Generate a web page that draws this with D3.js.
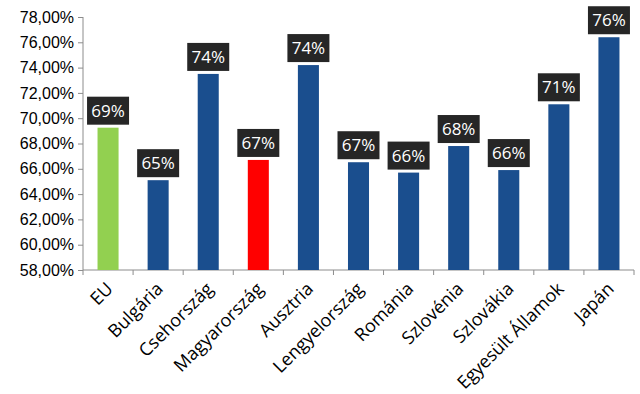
<!DOCTYPE html>
<html>
<head>
<meta charset="utf-8">
<script src="https://cdn.jsdelivr.net/npm/d3@7"></script>
<style>
  body { margin: 0; background: #fff; }
  svg { display: block; font-family: "Open Sans", sans-serif; }
</style>
</head>
<body>
<svg width="640" height="394"></svg>
<script>
// data
var countries = ["EU", "Bulgária", "Csehország", "Magyarország", "Ausztria", "Lengyelország",
                 "Románia", "Szlovénia", "Szlovákia", "Egyesült Államok", "Japán"];
var values = [69.25, 65.1, 73.5, 66.7, 74.2, 66.52, 65.7, 67.8, 65.9, 71.1, 76.4];
var barColors = ["#92d050", "#1a4e8e", "#1a4e8e", "#ff0000", "#1a4e8e", "#1a4e8e",
                 "#1a4e8e", "#1a4e8e", "#1a4e8e", "#1a4e8e", "#1a4e8e"];
var yTicks = [58, 60, 62, 64, 66, 68, 70, 72, 74, 76, 78];

var svg = d3.select("svg"),
    margin = {top: 17, right: 6, bottom: 124, left: 83},
    width = +svg.attr("width") - margin.left - margin.right,
    height = +svg.attr("height") - margin.top - margin.bottom;

var g = svg.append("g").attr("transform", "translate(" + margin.left + "," + margin.top + ")");

var x = d3.scaleBand().domain(countries).range([0, width]).padding(0);
var y = d3.scaleLinear().domain([58, 78]).range([height, 0]);

var fmt = function(d) { return d3.format(".2f")(d).replace(".", ",") + "%"; };

// y axis
var yAxis = g.append("g")
    .call(d3.axisLeft(y).tickValues(yTicks).tickFormat(fmt).tickSize(5).tickPadding(4));
yAxis.selectAll("line, path").attr("stroke", "#8c8c8c");
yAxis.select(".domain").attr("d", "M0," + y(78) + "V" + y(58));
yAxis.selectAll("text").attr("font-size", 16).attr("fill", "#000");

// x axis: ticks at category boundaries
var xg = g.append("g").attr("transform", "translate(0," + height + ")");
xg.append("line").attr("x1", 0).attr("x2", width).attr("stroke", "#8c8c8c");
xg.selectAll(".tick").data(countries.concat([null])).enter().append("line")
    .attr("x1", function(d) { return d === null ? width : x(d); })
    .attr("x2", function(d) { return d === null ? width : x(d); })
    .attr("y1", 0).attr("y2", 5)
    .attr("stroke", "#8c8c8c");

xg.selectAll(".lbl").data(countries).enter().append("text")
    .attr("transform", function(d) {
      return "translate(" + (x(d) + x.bandwidth() / 2 + 6) + ",20) rotate(-45)";
    })
    .attr("text-anchor", "end")
    .attr("font-size", 18)
    .text(function(d) { return d; });

// bars
var bw = x.bandwidth() * 0.42;
g.selectAll(".bar").data(countries).enter().append("rect")
    .attr("x", function(d) { return x(d) + (x.bandwidth() - bw) / 2; })
    .attr("y", function(d, i) { return y(values[i]); })
    .attr("width", bw)
    .attr("height", function(d, i) { return height - y(values[i]); })
    .attr("fill", function(d, i) { return barColors[i]; });

// value labels
var lab = g.selectAll(".val").data(countries).enter().append("g")
    .attr("transform", function(d, i) {
      return "translate(" + (x(d) + x.bandwidth() / 2) + "," + (y(values[i]) - 3) + ")";
    });
lab.append("rect")
    .attr("x", -21).attr("y", -28).attr("width", 42).attr("height", 28)
    .attr("fill", "#262626");
lab.append("text")
    .attr("y", -8)
    .attr("text-anchor", "middle")
    .attr("fill", "#fff")
    .attr("font-size", 17)
    .text(function(d, i) { return Math.round(values[i]) + "%"; });
</script>
</body>
</html>
